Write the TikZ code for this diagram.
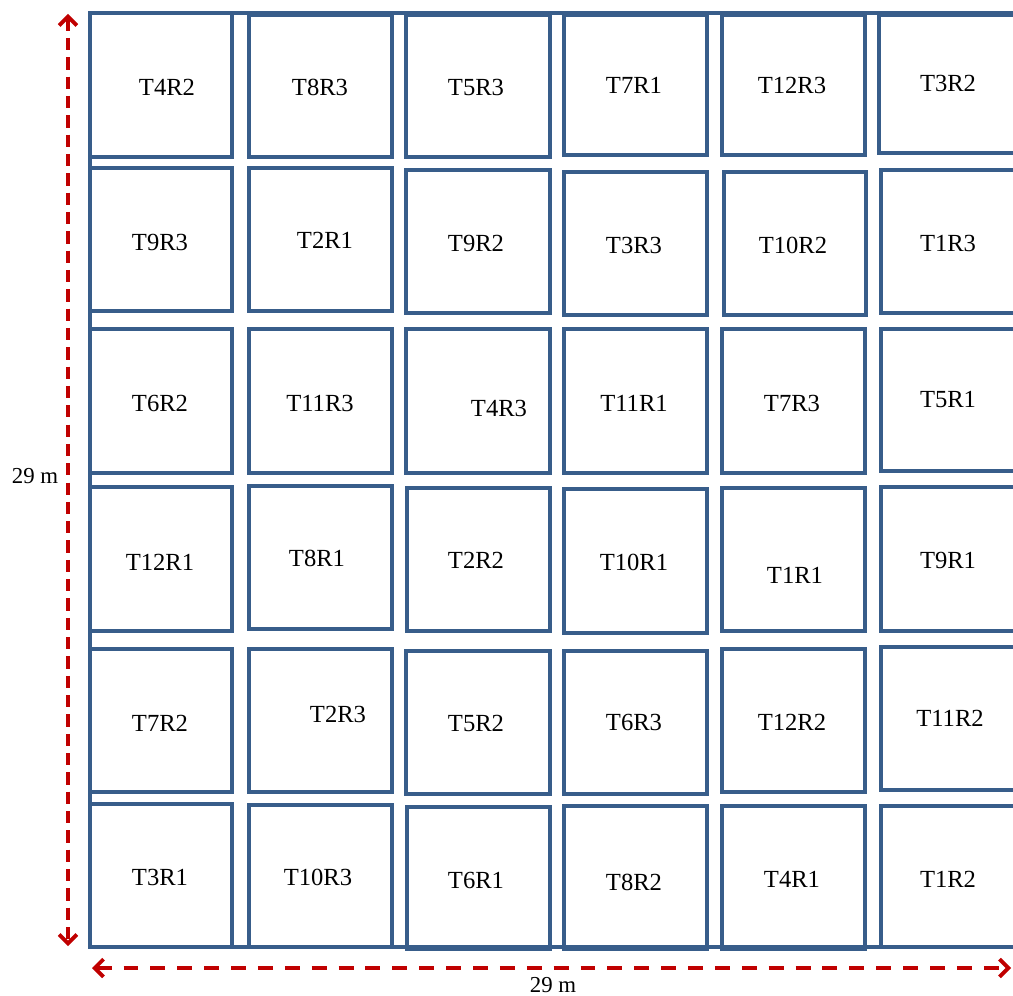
\documentclass[tikz,border=0pt]{standalone}
\usepackage{fontspec}
\setmainfont{Liberation Serif}
\usepackage{xcolor}
\usepackage{tikz}
\usetikzlibrary{arrows.meta}

\definecolor{plotblue}{RGB}{56,93,138}
\definecolor{dimred}{RGB}{192,0,0}

\begin{document}
\begin{tikzpicture}[
  x=0.02cm, y=-0.02cm,
  plot/.style={draw=plotblue, line width=2.4pt},
  tag/.style={font=\fontsize{14}{16}\selectfont, inner sep=0pt},
  dimtag/.style={font=\fontsize{13}{15}\selectfont, inner sep=0pt},
  dimline/.style={draw=dimred, line width=2.2pt,
                  {Straight Barb[length=5pt,width=10pt]}-{Straight Barb[length=5pt,width=10pt]}}
]
\clip (0,0) rectangle (1013,996);

% outer frame
\draw[plot] (1030,13) -- (90,13) -- (90,947) -- (1030,947);

% plots: x1/y1/x2/y2/label x/label y/text
\foreach \xa/\ya/\xb/\yb/\lx/\ly/\txt [count=\i] in {
  90/13/232/157/167/87/T4R2,     249/15/392/157/320/87/T8R3,
  406/15/550/157/476/87/T5R3,    564/15/707/155/634/85/T7R1,
  722/15/865/155/792/85/T12R3,   879/15/1030/153/948/83/T3R2,
  90/168/232/311/160/242/T9R3,   249/168/392/311/325/240/T2R1,
  406/170/550/313/476/243/T9R2,  564/172/707/315/634/245/T3R3,
  724/172/866/315/793/245/T10R2, 881/170/1030/313/948/243/T1R3,
  90/329/232/473/160/403/T6R2,   249/329/392/473/320/403/T11R3,
  406/329/550/473/499/408/T4R3,  564/329/707/473/634/403/T11R1,
  722/329/865/473/792/403/T7R3,  881/329/1030/471/948/400/T5R1,
  90/487/232/631/160/562/T12R1,  249/486/392/629/317/558/T8R1,
  407/488/550/631/476/560/T2R2,  564/489/707/633/634/562/T10R1,
  722/488/865/631/795/575/T1R1,  881/487/1030/631/948/560/T9R1,
  90/649/232/792/160/723/T7R2,   249/649/392/792/338/714/T2R3,
  406/651/550/794/476/723/T5R2,  564/651/707/794/634/722/T6R3,
  722/649/865/792/792/722/T12R2, 881/647/1030/790/950/718/T11R2,
  90/804/232/947/160/877/T3R1,   249/805/392/947/318/877/T10R3,
  407/807/550/949/476/880/T6R1,  564/806/707/949/634/882/T8R2,
  722/806/865/949/792/879/T4R1,  881/806/1030/947/948/879/T1R2} {
  \draw[plot] (\xa,\ya) rectangle (\xb,\yb);
  \node[tag] (p\i) at (\lx,\ly) {\txt};
}

% dimensions
\coordinate (vtop) at (68,14);
\coordinate (vbot) at (68,946);
\coordinate (hleft) at (92,968);
\coordinate (hright) at (1011,968);
\draw[dimline, dash pattern=on 7pt off 4pt] (vtop) -- (vbot);
\draw[dimline, dash pattern=on 8.5pt off 6.8pt] (hleft) -- (hright);
\node[dimtag] (side) at (35,476) {29 m};
\node[dimtag] (base) at (553,985) {29 m};
\end{tikzpicture}
\end{document}
